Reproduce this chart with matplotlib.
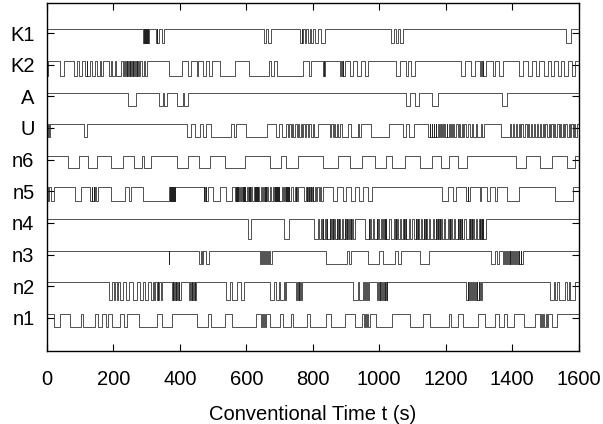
import numpy as np
import matplotlib
matplotlib.use("Agg")
import matplotlib.pyplot as plt

plt.rcParams['font.family'] = ['Liberation Sans', 'DejaVu Sans']

labels = ["K1", "K2", "A", "U", "n6", "n5", "n4", "n3", "n2", "n1"]
t_end = 1600

# low intervals (s), trace is "high" elsewhere
K1_low = [(289, 291), (292, 294), (295, 297), (298, 300), (301, 303), (304, 307),
          (327, 331), (332, 338), (346, 353), (652, 660), (665, 673),
          (762, 768), (769, 772), (777, 781), (786, 792), (794, 800), (806, 816), (825, 838),
          (1037, 1046), (1052, 1058), (1062, 1072), (1563, 1578)]

K2_low = [(0, 4), (38, 50), (80, 90), (96, 104), (113, 119), (121, 128), (135, 145), (150, 160),
          (163, 170), (188, 193), (197, 206), (209, 224),
          (230, 233), (235, 238), (240, 242), (244, 247), (249, 251), (253, 256), (258, 260),
          (262, 265), (267, 270), (272, 274), (276, 279), (286, 293), (296, 302),
          (368, 406), (424, 432), (452, 456), (470, 478), (488, 496), (522, 565), (608, 668),
          (674, 684), (692, 772), (790, 794), (830, 833), (834, 837), (882, 885), (887, 890),
          (892, 897), (912, 922), (934, 944), (957, 967), (1052, 1062), (1080, 1087), (1097, 1107),
          (1247, 1257), (1277, 1287), (1302, 1306), (1308, 1312), (1314, 1322), (1342, 1350),
          (1362, 1372), (1422, 1432), (1447, 1460), (1472, 1482), (1497, 1507), (1517, 1527),
          (1537, 1547), (1557, 1567), (1580, 1590)]

A_low = [(245, 268), (338, 350), (353, 362), (392, 408), (413, 424),
         (1080, 1094), (1109, 1121), (1158, 1178), (1369, 1385)]

U_low = [(1, 3), (6, 9), (112, 120), (420, 432), (446, 460), (470, 478), (495, 555), (562, 568),
         (598, 662), (690, 698), (706, 720), (724, 730), (734, 738), (742, 748), (752, 756),
         (760, 764), (768, 772), (776, 780), (785, 790), (795, 800), (805, 815),
         (852, 856), (860, 864), (868, 872), (876, 882), (888, 905), (915, 935), (940, 946),
         (974, 1030), (1072, 1080), (1090, 1104),
         (1147, 1152), (1154, 1158), (1160, 1164), (1166, 1170), (1172, 1177), (1179, 1183),
         (1185, 1190), (1192, 1196), (1198, 1203), (1205, 1210), (1212, 1216), (1218, 1223),
         (1226, 1232), (1236, 1240), (1243, 1248), (1252, 1256), (1260, 1268), (1272, 1278),
         (1283, 1290), (1295, 1305), (1308, 1317), (1367, 1395),
         (1398, 1402), (1406, 1412), (1416, 1420), (1424, 1428), (1432, 1440), (1444, 1448),
         (1452, 1456), (1460, 1466), (1470, 1474), (1478, 1484), (1488, 1492), (1496, 1500),
         (1504, 1510), (1514, 1518), (1522, 1526), (1530, 1536), (1540, 1544), (1548, 1552),
         (1556, 1560), (1564, 1570), (1574, 1578), (1582, 1586), (1590, 1594)]

n6_low = [(63, 95), (122, 152), (192, 230), (262, 285), (292, 312), (391, 424), (458, 492),
          (535, 595), (672, 705), (718, 756), (832, 877), (912, 947), (987, 1022), (1040, 1078),
          (1123, 1160), (1185, 1210), (1236, 1265), (1411, 1442), (1483, 1519), (1566, 1590)]

n5_low = [(2, 6), (12, 22), (84, 102), (130, 134), (136, 140), (142, 146), (148, 154),
          (194, 236), (248, 254), (290, 366),
          (366, 368), (369, 371), (372, 374), (375, 377), (378, 380), (381, 383), (384, 386),
          (472, 474), (476, 478), (480, 484), (500, 522), (540, 556),
          (566, 569), (570, 572), (573, 575), (576, 578), (580, 584), (587, 589), (590, 592),
          (593, 595), (597, 603), (606, 608), (609, 611), (612, 614), (616, 622), (625, 627),
          (628, 630), (631, 633), (634, 636), (638, 645), (648, 651), (654, 656), (657, 659),
          (660, 662), (664, 670), (674, 680), (683, 685), (686, 688), (689, 691), (692, 694),
          (695, 697), (699, 706), (709, 714), (717, 719), (720, 722), (723, 725), (726, 728),
          (730, 736), (740, 746), (749, 751), (752, 757),
          (775, 780), (782, 784), (786, 788), (790, 792), (794, 796),
          (798, 800), (802, 806), (810, 814), (818, 822), (826, 830),
          (860, 874), (892, 900), (915, 928), (940, 950), (965, 978),
          (1188, 1208), (1222, 1230), (1262, 1266), (1268, 1272), (1303, 1306), (1325, 1335),
          (1348, 1356), (1385, 1422), (1530, 1582)]

n4_low = [(606, 614), (712, 730),
          (803, 816), (818, 826), (828, 830), (832, 838), (840, 842), (844, 851), (853, 855),
          (857, 860), (862, 864), (866, 872), (874, 876), (878, 880), (882, 888), (891, 896),
          (898, 900), (902, 904), (906, 910), (912, 914), (916, 918), (920, 926),
          (958, 968), (970, 973), (975, 980), (984, 992), (994, 996), (998, 1004), (1007, 1012),
          (1014, 1016), (1018, 1020), (1022, 1030), (1036, 1046), (1048, 1050), (1052, 1054),
          (1056, 1063), (1066, 1072), (1074, 1076), (1078, 1080), (1082, 1090), (1093, 1100),
          (1104, 1110), (1112, 1114), (1116, 1118), (1120, 1126), (1130, 1134), (1136, 1138),
          (1140, 1142), (1144, 1150), (1154, 1162), (1165, 1170), (1172, 1174), (1176, 1178),
          (1180, 1182), (1184, 1186), (1188, 1194), (1198, 1206), (1209, 1212), (1214, 1216),
          (1218, 1224), (1228, 1236), (1238, 1240), (1242, 1244), (1246, 1248), (1250, 1256),
          (1262, 1270), (1272, 1274), (1276, 1278), (1280, 1282), (1284, 1290), (1294, 1300),
          (1302, 1304), (1306, 1308), (1310, 1312), (1314, 1321)]

n3_low = [(366, 367), (458, 465), (467, 469), (480, 489),
          (640, 644), (646, 650), (652, 655), (658, 662), (664, 668), (670, 676),
          (840, 903), (908, 915), (966, 1000), (1012, 1048), (1058, 1066), (1122, 1150),
          (1336, 1350), (1354, 1360), (1372, 1376), (1378, 1382), (1384, 1388), (1390, 1393),
          (1395, 1398), (1400, 1404), (1406, 1409), (1411, 1415), (1417, 1420), (1422, 1426),
          (1428, 1432)]

n2_low = [(186, 197), (201, 205), (210, 214), (220, 230), (238, 246), (258, 270), (280, 290),
          (296, 303), (312, 318), (322, 326), (330, 333), (335, 338), (342, 345),
          (375, 378), (380, 382), (384, 387), (389, 391), (393, 396), (398, 402),
          (428, 431), (433, 436), (438, 440), (442, 445), (447, 450),
          (540, 550), (556, 572), (585, 592), (672, 682), (688, 698), (702, 712), (716, 720),
          (750, 753), (755, 758), (760, 763), (765, 768),
          (922, 935), (940, 950), (955, 958), (960, 963), (965, 968),
          (993, 996), (998, 1001), (1003, 1006), (1008, 1011), (1013, 1016), (1018, 1021), (1023, 1025),
          (1262, 1266), (1268, 1271), (1273, 1277), (1279, 1282), (1284, 1288), (1290, 1293),
          (1295, 1299), (1301, 1304), (1306, 1310),
          (1515, 1525), (1530, 1535), (1540, 1560), (1565, 1570), (1575, 1590)]

n1_low = [(21, 39), (70, 101), (108, 144), (155, 165), (177, 185), (196, 221), (232, 242),
          (278, 330), (345, 376), (453, 484), (494, 535), (556, 628), (644, 648), (650, 654),
          (656, 659), (670, 700), (711, 736), (742, 783), (793, 840), (855, 896), (927, 948),
          (953, 957), (960, 964), (967, 973), (989, 1040), (1092, 1133), (1153, 1210), (1215, 1236),
          (1251, 1298), (1318, 1349), (1360, 1375), (1385, 1406), (1437, 1468), (1483, 1487),
          (1490, 1494), (1497, 1501), (1504, 1509), (1519, 1535)]

traces = [K1_low, K2_low, A_low, U_low, n6_low, n5_low, n4_low, n3_low, n2_low, n1_low]
# depth of the low level below the high level, in row units
depth = [0.44, 0.47, 0.41, 0.42, 0.40, 0.44, 0.64, 0.42, 0.56, 0.42]


def steps(lows):
    t = [0]
    s = [1]
    for a, b in lows:
        t += [a, a, b, b]
        s += [1, 0, 0, 1]
    t.append(t_end)
    s.append(1)
    return np.array(t, float), np.array(s, float)


fig = plt.figure(figsize=(6.03, 4.24), dpi=100)
ax = fig.add_axes([47 / 603, 73 / 424, 531.5 / 603, 348 / 424])

for i, lows in enumerate(traces):
    row = 10 - i
    t, s = steps(lows)
    y = row + 0.12 - depth[i] * (1 - s)
    ax.plot(t, y, color='#222222', lw=0.55)

ax.set_xlim(0, 1600)
ax.set_ylim(-0.05, 10.95)
ax.set_xticks(range(0, 1601, 200))
ax.set_yticks(range(10, 0, -1))
ax.set_yticklabels(labels)
ax.tick_params(direction='in', top=True, right=True, length=5, width=0.8,
               labelsize=14.5)
ax.tick_params(axis='x', pad=14)
ax.tick_params(axis='y', pad=9)
for sp in ax.spines.values():
    sp.set_linewidth(1.0)
ax.set_xlabel("Conventional Time t (s)", fontsize=14.5, labelpad=11)

fig.savefig("out.png", dpi=100)
